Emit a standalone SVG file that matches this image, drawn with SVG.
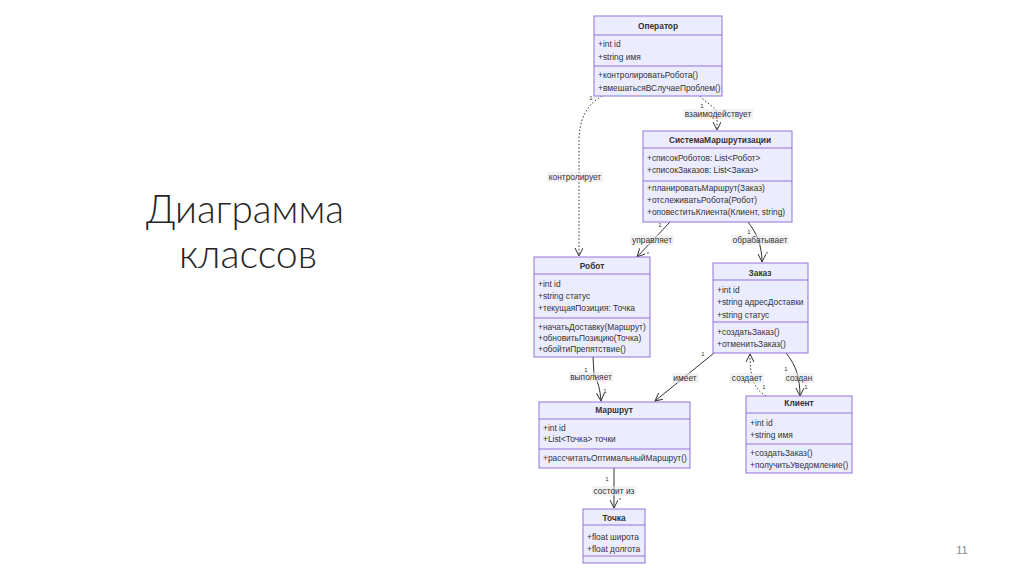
<svg xmlns="http://www.w3.org/2000/svg" width="1024" height="574" viewBox="0 0 1024 574">
<style>
.box{fill:#ECECFF;stroke:#9370DB;stroke-width:1}
.div{stroke:#9370DB;stroke-width:1}
.t{font-family:"Liberation Sans",Arial,sans-serif;font-size:8.4px;fill:#333}
.h{font-family:"Liberation Sans",Arial,sans-serif;font-size:8.4px;font-weight:bold;fill:#333;text-anchor:middle}
.e{fill:none;stroke:#333;stroke-width:1}
.d{stroke-dasharray:1.5 2}
.lb{fill:#e8e8e8;opacity:0.55}
.l{font-family:"Liberation Sans",Arial,sans-serif;font-size:8.4px;fill:#333;text-anchor:middle}
.m{font-family:"Liberation Sans",Arial,sans-serif;font-size:6px;fill:#333;text-anchor:middle}
.title{font-family:Lato,"Open Sans","Liberation Sans",sans-serif;font-weight:300;font-size:40px;fill:#262626;text-anchor:middle}
</style>
<defs>
<marker id="arr" markerWidth="10" markerHeight="10" refX="8" refY="4" orient="auto" markerUnits="userSpaceOnUse">
<path d="M0,0 L8,4 L0,8" fill="none" stroke="#333" stroke-width="1"/>
</marker>
<clipPath id="cSys"><rect x="643" y="131" width="149" height="91"/></clipPath>
<clipPath id="cTo"><rect x="583" y="509" width="62" height="54"/></clipPath>
</defs>
<rect width="1024" height="574" fill="#fff"/>
<text class="title" x="245" y="223" textLength="198" lengthAdjust="spacingAndGlyphs">Диаграмма</text>
<text class="title" x="248" y="268" textLength="138" lengthAdjust="spacingAndGlyphs">классов</text>
<text x="962" y="554" style="font-family:'Liberation Sans',Arial,sans-serif;font-size:11px;fill:#888;text-anchor:middle">11</text>

<g id="connectors">
<path class="e d" d="M700,96 C706,103 716,107 717,113 L717,130" marker-end="url(#arr)"/>
<path class="e d" d="M602,96 C586,105 579,120 579,142 L579,256" marker-end="url(#arr)"/>
<path class="e" d="M670,222 L637,257" marker-end="url(#arr)"/>
<path class="e" d="M748,222 C756,232 762,245 762,262" marker-end="url(#arr)"/>
<path class="e" d="M593,357 L594,374 Q600,385 601,401" marker-end="url(#arr)"/>
<path class="e" d="M714,353 L655,401" marker-end="url(#arr)"/>
<path class="e d" d="M766,396 C754,389 750,378 750,354" marker-end="url(#arr)"/>
<path class="e" d="M786,353 C796,365 800,378 800,396" marker-end="url(#arr)"/>
<path class="e" d="M614,467 L614,508" marker-end="url(#arr)"/>

<rect class="lb" x="683" y="109" width="70" height="10"/>
<text class="l" x="718" y="117">взаимодействует</text>
<rect class="lb" x="547" y="172" width="56" height="10"/>
<text class="l" x="575" y="180">контролирует</text>
<rect class="lb" x="630" y="235" width="44" height="10"/>
<text class="l" x="652" y="243">управляет</text>
<rect class="lb" x="731" y="235" width="58" height="10"/>
<text class="l" x="760" y="243">обрабатывает</text>
<rect class="lb" x="569" y="372" width="44" height="10"/>
<text class="l" x="591" y="380">выполняет</text>
<rect class="lb" x="672" y="373" width="27" height="10"/>
<text class="l" x="685" y="381">имеет</text>
<rect class="lb" x="730" y="373" width="34" height="10"/>
<text class="l" x="747" y="381">создает</text>
<rect class="lb" x="785" y="373" width="29" height="10"/>
<text class="l" x="799" y="381">создан</text>
<rect class="lb" x="592" y="486" width="44" height="10"/>
<text class="l" x="614" y="494">состоит из</text>

<text class="m" x="591" y="100">1</text>
<text class="m" x="702" y="108">1</text>
<text class="m" x="660" y="227">1</text>
<text class="m" x="648" y="256">*</text>
<text class="m" x="749" y="234">1</text>
<text class="m" x="767" y="256">*</text>
<text class="m" x="586" y="372">1</text>
<text class="m" x="605" y="393">1</text>
<text class="m" x="703" y="356">1</text>
<text class="m" x="764" y="389">1</text>
<text class="m" x="786" y="371">1</text>
<text class="m" x="806" y="389">1</text>
<text class="m" x="607" y="481">1</text>
<text class="m" x="620" y="502">*</text>
</g>

<g id="operator">
<rect class="box" x="594" y="16" width="128" height="80"/>
<line class="div" x1="594" y1="35" x2="722" y2="35"/>
<line class="div" x1="594" y1="66" x2="722" y2="66"/>
<text class="h" x="658" y="29">Оператор</text>
<text class="t" x="598" y="47">+int id</text>
<text class="t" x="598" y="60">+string имя</text>
<text class="t" x="598" y="78">+контролироватьРобота()</text>
<text class="t" x="598" y="91">+вмешатьсяВСлучаеПроблем()</text>
</g>

<g id="system">
<rect class="box" x="643" y="131" width="149" height="91"/>
<line class="div" x1="643" y1="148" x2="792" y2="148"/>
<line class="div" x1="643" y1="181" x2="792" y2="181"/>
<g clip-path="url(#cSys)"><text class="h" x="720" y="143">СистемаМаршрутизации</text></g>
<text class="t" x="647" y="161">+списокРоботов: List&lt;Робот&gt;</text>
<text class="t" x="647" y="173">+списокЗаказов: List&lt;Заказ&gt;</text>
<text class="t" x="647" y="191">+планироватьМаршрут(Заказ)</text>
<text class="t" x="647" y="203">+отслеживатьРобота(Робот)</text>
<text class="t" x="647" y="215">+оповеститьКлиента(Клиент, string)</text>
</g>

<g id="robot">
<rect class="box" x="534" y="257" width="116" height="100"/>
<line class="div" x1="534" y1="274" x2="650" y2="274"/>
<line class="div" x1="534" y1="318" x2="650" y2="318"/>
<text class="h" x="592" y="269">Робот</text>
<text class="t" x="538" y="287">+int id</text>
<text class="t" x="538" y="299">+string статус</text>
<text class="t" x="538" y="311">+текущаяПозиция: Точка</text>
<text class="t" x="538" y="330">+начатьДоставку(Маршрут)</text>
<text class="t" x="538" y="341">+обновитьПозицию(Точка)</text>
<text class="t" x="538" y="352">+обойтиПрепятствие()</text>
</g>

<g id="order">
<rect class="box" x="713" y="263" width="95" height="90"/>
<line class="div" x1="713" y1="280" x2="808" y2="280"/>
<line class="div" x1="713" y1="322" x2="808" y2="322"/>
<text class="h" x="760" y="276">Заказ</text>
<text class="t" x="717" y="293">+int id</text>
<text class="t" x="717" y="305">+string адресДоставки</text>
<text class="t" x="717" y="318">+string статус</text>
<text class="t" x="717" y="335">+создатьЗаказ()</text>
<text class="t" x="717" y="347">+отменитьЗаказ()</text>
</g>

<g id="route">
<rect class="box" x="539" y="402" width="151" height="66"/>
<line class="div" x1="539" y1="419" x2="690" y2="419"/>
<line class="div" x1="539" y1="449" x2="690" y2="449"/>
<text class="h" x="614" y="413">Маршрут</text>
<text class="t" x="543" y="431">+int id</text>
<text class="t" x="543" y="442">+List&lt;Точка&gt; точки</text>
<text class="t" x="543" y="461">+рассчитатьОптимальныйМаршрут()</text>
</g>

<g id="client">
<rect class="box" x="746" y="396" width="106" height="77"/>
<line class="div" x1="746" y1="413" x2="852" y2="413"/>
<line class="div" x1="746" y1="444" x2="852" y2="444"/>
<text class="h" x="799" y="406">Клиент</text>
<text class="t" x="750" y="426">+int id</text>
<text class="t" x="750" y="438">+string имя</text>
<text class="t" x="750" y="456">+создатьЗаказ()</text>
<text class="t" x="750" y="468">+получитьУведомление()</text>
</g>

<g id="point">
<rect class="box" x="583" y="509" width="62" height="54"/>
<line class="div" x1="583" y1="525" x2="645" y2="525"/>
<line class="div" x1="583" y1="556" x2="645" y2="556"/>
<g clip-path="url(#cTo)">
<text class="h" x="614" y="521">Точка</text>
<text class="t" x="587" y="540">+float широта</text>
<text class="t" x="587" y="552">+float долгота</text>
</g>
</g>
</svg>
